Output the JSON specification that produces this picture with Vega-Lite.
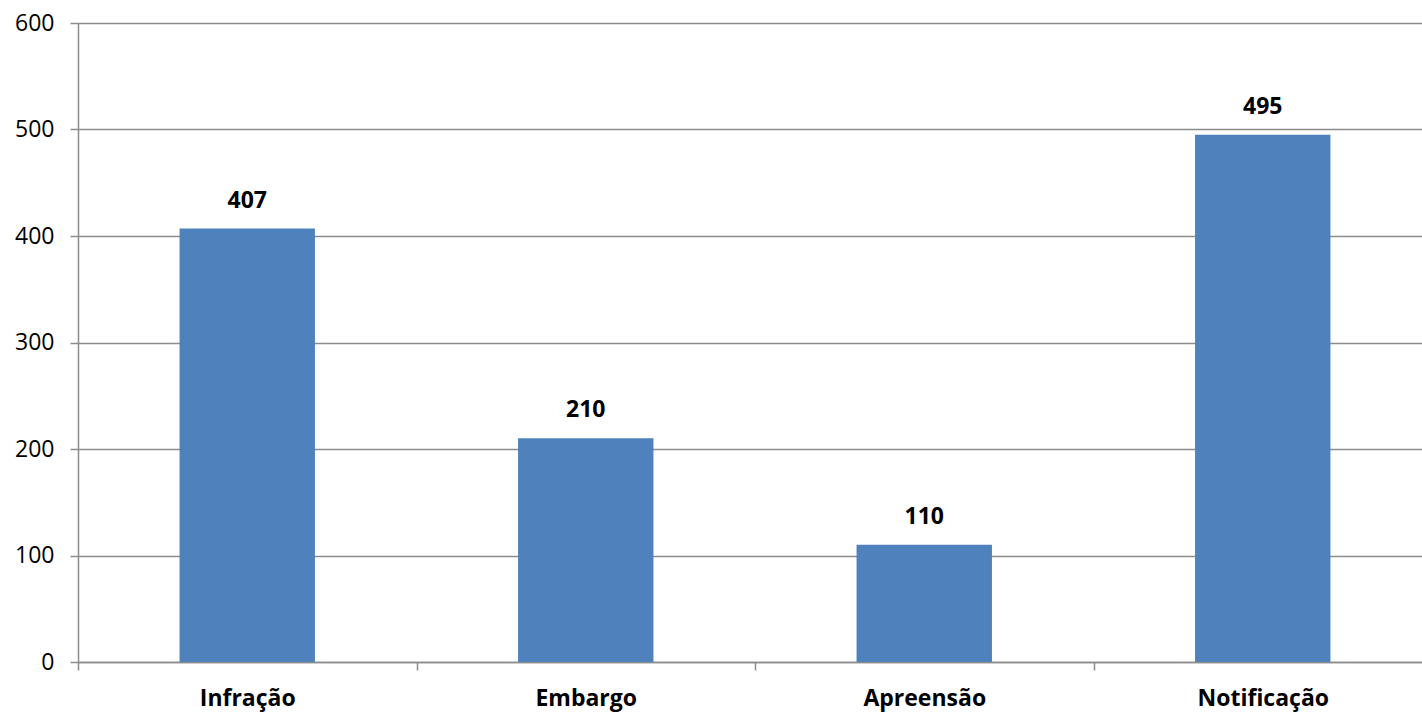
{
  "$schema": "https://vega.github.io/schema/vega-lite/v6.json",
  "autosize": {"type": "none"},
  "padding": {"left": 78, "top": 23, "right": 0, "bottom": 53},
  "width": 1344,
  "height": 639,
  "background": "white",
  "data": {
    "values": [
      {"tipo": "Infração", "total": 407},
      {"tipo": "Embargo", "total": 210},
      {"tipo": "Apreensão", "total": 110},
      {"tipo": "Notificação", "total": 495}
    ]
  },
  "encoding": {
    "x": {
      "field": "tipo",
      "type": "nominal",
      "sort": null,
      "title": null,
      "scale": {"range": [0, 1354], "paddingInner": 0.6, "paddingOuter": 0.3},
      "axis": {
        "bandPosition": 0,
        "tickOffset": -101.5,
        "labelOffset": 101.5,
        "labelAngle": 0,
        "labelFont": "Open Sans",
        "labelFontSize": 23,
        "labelFontWeight": "bold",
        "labelColor": "black",
        "labelPadding": 17,
        "domainColor": "#8c8c8c",
        "domainWidth": 1.5,
        "tickColor": "#8c8c8c",
        "tickSize": 8,
        "tickWidth": 1.5,
        "grid": false
      }
    },
    "y": {
      "field": "total",
      "type": "quantitative",
      "title": null,
      "scale": {"domain": [0, 600], "nice": false},
      "axis": {
        "values": [0, 100, 200, 300, 400, 500, 600],
        "labelFont": "Open Sans",
        "labelFontSize": 23,
        "labelColor": "black",
        "labelPadding": 16,
        "domainColor": "#8c8c8c",
        "domainWidth": 1.5,
        "tickColor": "#8c8c8c",
        "tickSize": 8,
        "tickWidth": 1.5,
        "gridColor": "#8c8c8c",
        "gridWidth": 1.5
      }
    }
  },
  "layer": [
    {"mark": {"type": "bar", "color": "#4F81BD"}},
    {
      "mark": {
        "type": "text",
        "baseline": "bottom",
        "dy": -16,
        "font": "Open Sans",
        "fontSize": 23,
        "fontWeight": "bold",
        "color": "black"
      },
      "encoding": {"text": {"field": "total", "type": "quantitative"}}
    }
  ],
  "config": {"view": {"stroke": null}}
}
